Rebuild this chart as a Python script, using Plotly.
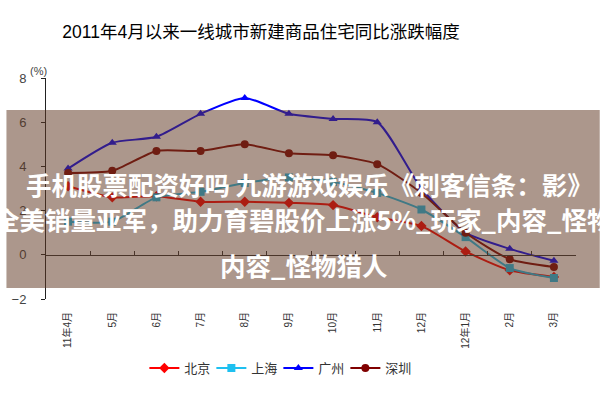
import plotly.graph_objects as go

months = ["11年4月", "5月", "6月", "7月", "8月", "9月", "10月", "11月", "12月", "12年1月", "2月", "3月"]
beijing = [3.1, 2.6, 2.65, 2.4, 2.4, 2.35, 2.25, 1.7, 1.3, 0.15, -0.7, -1.0]
shanghai = [1.5, 1.5, 2.6, 2.85, 3.25, 3.5, 3.3, 2.8, 2.05, 0.8, -0.6, -1.05]
guangzhou = [3.9, 5.07, 5.34, 6.38, 7.1, 6.38, 6.15, 6.0, 3.0, 1.0, 0.27, -0.27]
shenzhen = [3.7, 3.8, 4.7, 4.7, 5.0, 4.6, 4.5, 4.1, 2.8, 1.0, -0.2, -0.55]

series = [
    ("北京", beijing, "#ff0000", "diamond"),
    ("上海", shanghai, "#1ec0f0", "square"),
    ("广州", guangzhou, "#0000ff", "triangle-up"),
    ("深圳", shenzhen, "#800000", "circle"),
]

CJK = "Liberation Sans, Noto Sans CJK SC, sans-serif"

fig = go.Figure()
for name, vals, col, sym in series:
    fig.add_trace(go.Scatter(
        x=months, y=vals, name=name, mode="lines+markers",
        line=dict(color=col, width=2, shape="spline", smoothing=0.6),
        marker=dict(color=col, symbol=sym, size=8),
    ))
# helper trace for the zero axis
fig.add_trace(go.Scatter(x=months, y=[None] * len(months), xaxis="x2",
                         showlegend=False, hoverinfo="skip"))

fig.update_layout(
    width=600, height=400,
    margin=dict(l=40, r=24, t=78, b=101),
    paper_bgcolor="white", plot_bgcolor="white",
    font=dict(family=CJK, color="#333"),
    title=dict(text="2011年4月以来一线城市新建商品住宅同比涨跌幅度",
               x=261 / 600, xanchor="center", xref="container",
               y=1 - 32 / 400, yanchor="middle", yref="container",
               font=dict(size=17.5, color="#000", family=CJK)),
    xaxis=dict(type="category", categoryarray=months, range=[-0.5, 11.5],
               showline=False, showgrid=False, zeroline=False, ticks="",
               tickangle=-90, tickfont=dict(size=10, color="#333"),
               ticklabelstandoff=10),
    xaxis2=dict(type="category", categoryarray=months, range=[-0.5, 11.5],
                overlaying="x", anchor="free", position=0.2, side="bottom",
                showline=True, linecolor="#333", linewidth=1,
                ticks="inside", tickson="boundaries", ticklen=4, tickcolor="#333",
                showticklabels=False, showgrid=False, zeroline=False),
    yaxis=dict(range=[-2, 8], dtick=2, showline=True, linecolor="#222", linewidth=1,
               ticks="outside", ticklen=4, tickcolor="#222", showgrid=False,
               zeroline=False, tickfont=dict(size=13, color="#444"),
               ticklabelstandoff=12),
    legend=dict(orientation="h", x=(275 - 40) / 536, xanchor="center",
                y=(299 - 368) / 221, yanchor="middle",
                font=dict(size=13, color="#333"), itemwidth=30,
                entrywidth=22, entrywidthmode="pixels"),
    showlegend=True,
)

fig.add_annotation(text="(%)", xref="paper", yref="paper", x=(22 - 40) / 536,
                   y=(299 - 63) / 221, showarrow=False, font=dict(size=11, color="#444"))

# overlay banner
fig.add_shape(type="rect", xref="paper", yref="paper",
              x0=-40 / 536, x1=560 / 536, y0=(299 - 288) / 221, y1=(299 - 110) / 221,
              fillcolor="rgba(95,55,35,0.52)", line=dict(width=0), layer="above")

banner_lines = [
    ("手机股票配资好吗 九游游戏娱乐《刺客信条：影》", 306, 183),
    ("全美销量亚军，助力育碧股价上涨5%_玩家_内容_怪物", 300, 218),
    ("内容_怪物猎人", 300, 264),
]
for txt, px, py in banner_lines:
    fig.add_annotation(text="<b>" + txt + "</b>", xref="paper", yref="paper",
                       x=(px - 40) / 536, y=(299 - py) / 221,
                       xanchor="center", yanchor="middle", showarrow=False,
                       font=dict(size=25.5, color="white", family="Noto Sans CJK SC"))

fig.write_html("out.html", config={"displayModeBar": False},
               post_script="document.body.style.margin='0';")
